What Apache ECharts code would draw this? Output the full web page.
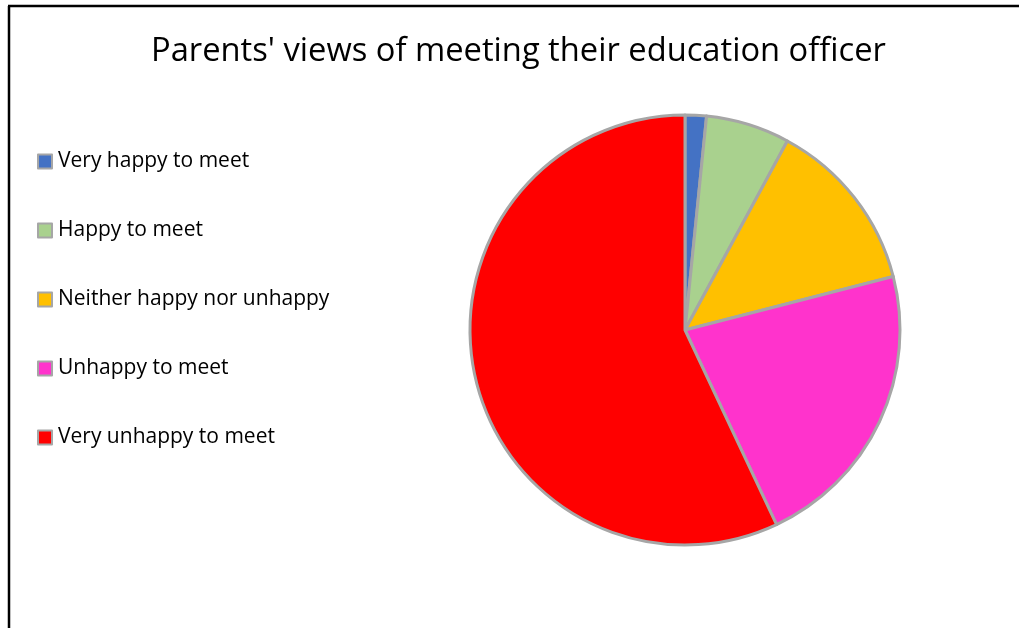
<!DOCTYPE html>
<html><head><meta charset="utf-8">
<script src="https://cdn.jsdelivr.net/npm/echarts@6/dist/echarts.min.js"></script>
<style>html,body{margin:0;padding:0;background:#fff}#c{width:1019px;height:628px}</style>
</head><body><div id="c"></div>
<script>
const categories = ['Very happy to meet','Happy to meet','Neither happy nor unhappy','Unhappy to meet','Very unhappy to meet'];
const values = [1.6, 6.3, 13.1, 22.0, 57.0];
const colors = ['#4472C4','#A9D18E','#FFC000','#FF33CC','#FF0000'];
const chart = echarts.init(document.getElementById('c'));
chart.setOption({
  animation:false,
  title:{text:"Parents' views of meeting their education officer",left:146,top:30,
    textStyle:{fontFamily:'Open Sans',fontWeight:'normal',fontSize:32.7,color:'#000'}},
  legend:{orient:'vertical',left:32,top:146,itemGap:48,itemWidth:14,itemHeight:14,icon:'rect',
    data:categories,
    itemStyle:{borderColor:'#A6A6A6',borderWidth:2},
    textStyle:{fontFamily:'Open Sans',fontSize:21,lineHeight:20,color:'#000',padding:[0,0,0,1]}},
  graphic:[
    {type:'line',shape:{x1:8,y1:6,x2:1019,y2:6},style:{stroke:'#000',lineWidth:2.5}},
    {type:'line',shape:{x1:9,y1:6,x2:9,y2:628},style:{stroke:'#000',lineWidth:2.5}}
  ],
  series:[{type:'pie',center:[685,330],radius:[0,215],startAngle:90,clockwise:true,
    label:{show:false},labelLine:{show:false},
    itemStyle:{borderColor:'#A6A6A6',borderWidth:3},
    data:categories.map((c,i)=>({name:c,value:values[i],itemStyle:{color:colors[i]}}))}]
});
</script></body></html>
